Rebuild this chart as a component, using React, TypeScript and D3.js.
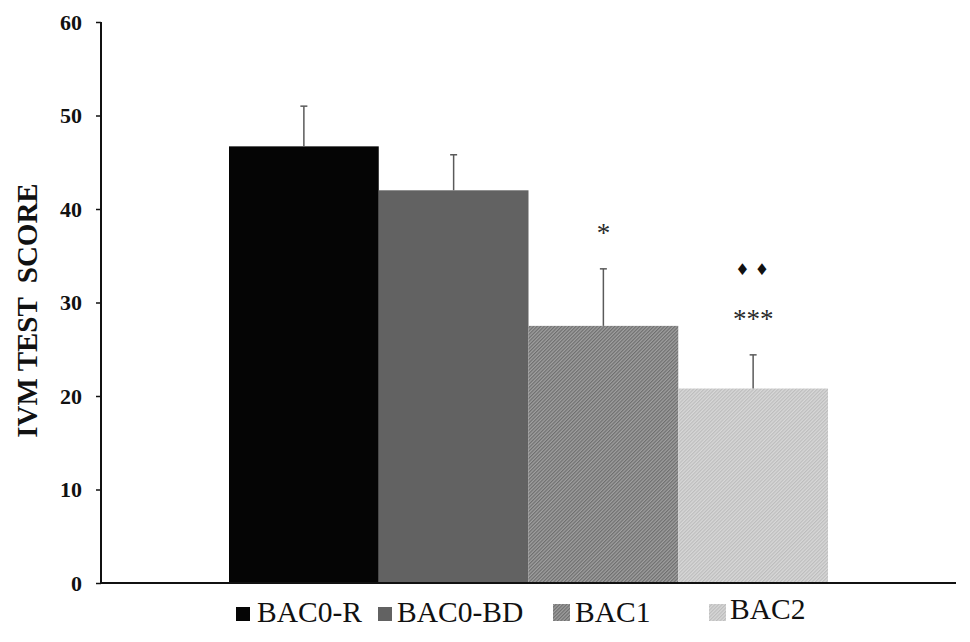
import React, { useEffect, useRef } from "react";
import * as d3 from "d3";

// data
const groups = ["BAC0-R", "BAC0-BD", "BAC1", "BAC2"];
const means = [46.7, 42.0, 27.5, 20.8];
const errors = [4.3, 3.8, 6.1, 3.6];
const yTicks = [0, 10, 20, 30, 40, 50, 60];
const markers = ["", "", "*", "***"];
const diamondMarks = ["", "", "", "♦ ♦"];

const W = 970;
const H = 642;
const margin = { top: 22, right: 14, bottom: 59, left: 101 };
const barGap = 128; // empty space each side of the bar group
const legendX = [236, 378, 553, 709]; // swatch left edges
const legendTextX = [257, 397, 575, 730];

const App = () => {
  const svgRef = useRef<SVGSVGElement>(null);

  useEffect(() => {
    const svg = d3.select(svgRef.current);
    svg.selectAll("*").remove();

    const plotRight = W - margin.right;
    const plotBottom = H - margin.bottom;

    const x = d3.scaleBand()
      .domain(groups)
      .range([margin.left + barGap, plotRight - barGap])
      .padding(0);

    const y = d3.scaleLinear()
      .domain([0, 60])
      .range([plotBottom, margin.top]);

    // hatch patterns
    const defs = svg.append("defs");
    const pat = (id, bg, fg) => {
      const p = defs.append("pattern")
        .attr("id", id)
        .attr("patternUnits", "userSpaceOnUse")
        .attr("width", 2.5)
        .attr("height", 2.5)
        .attr("patternTransform", "rotate(45)");
      p.append("rect").attr("width", 2.5).attr("height", 2.5).attr("fill", bg);
      p.append("rect").attr("width", 1.2).attr("height", 2.5).attr("fill", fg);
    };
    pat("hatch1", "#a0a0a0", "#6e6e6e");
    pat("hatch2", "#d8d8d8", "#bdbdbd");
    const fills = ["#050505", "#626262", "url(#hatch1)", "url(#hatch2)"];

    // bars
    svg.append("g")
      .selectAll("rect")
      .data(groups)
      .join("rect")
      .attr("x", d => x(d))
      .attr("y", (d, i) => y(means[i]))
      .attr("width", x.bandwidth())
      .attr("height", (d, i) => y(0) - y(means[i]))
      .attr("fill", (d, i) => fills[i]);

    // error bars (upper only)
    const eb = svg.append("g").attr("stroke", "#5a5a5a").attr("stroke-width", 1.5);
    groups.forEach((g, i) => {
      const cx = x(g) + x.bandwidth() / 2;
      eb.append("line")
        .attr("x1", cx).attr("x2", cx)
        .attr("y1", y(means[i])).attr("y2", y(means[i] + errors[i]));
      eb.append("line")
        .attr("x1", cx - 3.5).attr("x2", cx + 3.5)
        .attr("y1", y(means[i] + errors[i])).attr("y2", y(means[i] + errors[i]));
    });

    // significance markers
    groups.forEach((g, i) => {
      const cx = x(g) + x.bandwidth() / 2;
      if (markers[i]) {
        svg.append("text")
          .attr("x", cx)
          .attr("y", y(means[i] + errors[i]) - 27)
          .attr("text-anchor", "middle")
          .style("font-family", "'Liberation Serif', 'Times New Roman', serif")
          .style("font-size", "27px")
          .attr("fill", "#2a2a2a")
          .text(markers[i]);
      }
      if (diamondMarks[i]) {
        svg.append("text")
          .attr("x", cx - 1)
          .attr("y", y(means[i] + errors[i]) - 80)
          .attr("text-anchor", "middle")
          .style("font-family", "'DejaVu Sans', sans-serif")
          .style("font-size", "16px")
          .attr("fill", "#111")
          .text(diamondMarks[i]);
      }
    });

    // axes
    const yAxis = svg.append("g")
      .attr("transform", `translate(${margin.left},0)`)
      .call(d3.axisLeft(y).tickValues(yTicks).tickSize(5).tickPadding(14).tickFormat(d3.format("d")));
    yAxis.select(".domain").attr("stroke", "#111").attr("stroke-width", 2).attr("d", `M0,${margin.top}V${plotBottom}`);
    yAxis.selectAll(".tick line").attr("stroke", "#111").attr("stroke-width", 1.5);
    yAxis.selectAll(".tick text")
      .attr("fill", "#111")
      .style("font-family", "'Liberation Serif', 'Times New Roman', serif")
      .style("font-size", "22px")
      .style("font-weight", "bold");

    svg.append("line")
      .attr("x1", margin.left)
      .attr("x2", plotRight)
      .attr("y1", plotBottom)
      .attr("y2", plotBottom)
      .attr("stroke", "#111")
      .attr("stroke-width", 2);

    // y label
    svg.append("text")
      .attr("transform", `translate(37,${(margin.top + plotBottom) / 2 + 8}) rotate(-90)`)
      .attr("text-anchor", "middle")
      .style("font-family", "'Liberation Serif', 'Times New Roman', serif")
      .style("font-size", "29px")
      .style("font-weight", "bold")
      .style("white-space", "pre")
      .attr("fill", "#111")
      .text("IVM TEST  SCORE");

    // legend
    const lg = svg.append("g");
    groups.forEach((g, i) => {
      const size = i < 2 ? 14 : 17;
      lg.append("rect")
        .attr("x", legendX[i])
        .attr("y", 621 - size)
        .attr("width", size)
        .attr("height", size)
        .attr("fill", fills[i]);
      lg.append("text")
        .attr("x", legendTextX[i])
        .attr("y", i === 3 ? 619 : 622)
        .style("font-family", "'Liberation Serif', 'Times New Roman', serif")
        .style("font-size", "29.5px")
        .attr("fill", "#111")
        .text(g);
    });
  }, []);

  return (
    <svg
      ref={svgRef}
      width={W}
      height={H}
      style={{ position: "absolute", left: 0, top: 0, background: "#fff" }}
    />
  );
};

export default App;
